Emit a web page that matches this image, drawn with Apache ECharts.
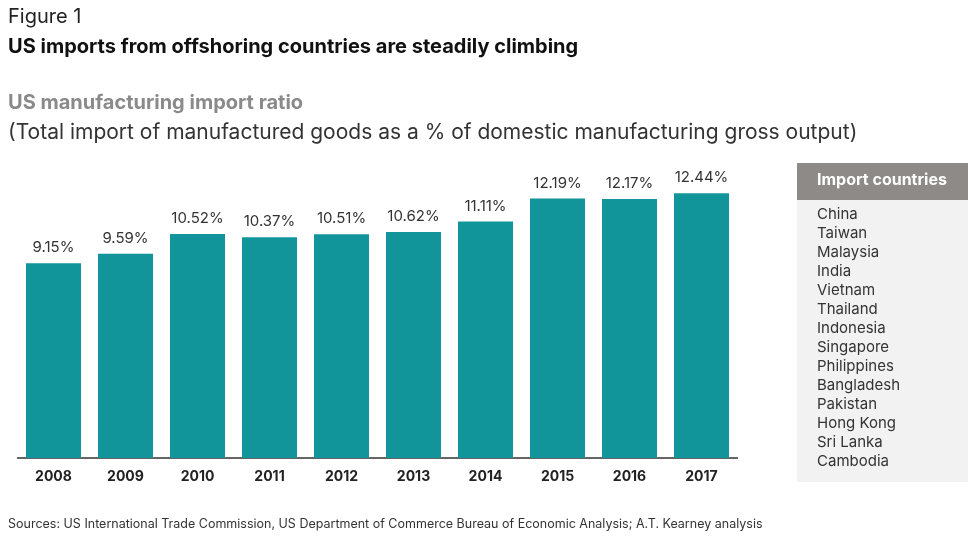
<!DOCTYPE html>
<html>
<head>
<meta charset="utf-8">
<script src="https://cdn.jsdelivr.net/npm/echarts@6/dist/echarts.min.js"></script>
<style>html,body{margin:0;padding:0;background:#fff}#chart{width:968px;height:549px}</style>
</head>
<body>
<div id="chart"></div>
<script>
var years = ['2008', '2009', '2010', '2011', '2012', '2013', '2014', '2015', '2016', '2017'];
var ratios = [9.15, 9.59, 10.52, 10.37, 10.51, 10.62, 11.11, 12.19, 12.17, 12.44];
var countries = ['China', 'Taiwan', 'Malaysia', 'India', 'Vietnam', 'Thailand', 'Indonesia', 'Singapore',
    'Philippines', 'Bangladesh', 'Pakistan', 'Hong Kong', 'Sri Lanka', 'Cambodia'];

var font = 'Inter, Roboto, sans-serif';
var myChart = echarts.init(document.getElementById('chart'));

var countryText = countries.map(function (c, i) {
    return {
        type: 'text', left: 817, top: 207 + i * 19,
        style: { text: c, font: '15px ' + font, fill: '#333' }
    };
});

var option = {
    backgroundColor: '#fff',
    animation: false,
    grid: { left: 17.5, right: 230.5, top: 160, bottom: 91 },
    xAxis: {
        type: 'category',
        data: years,
        axisTick: { show: false },
        axisLine: { lineStyle: { color: '#333', width: 1.5 } },
        axisLabel: { margin: 12, fontFamily: font, fontWeight: 'bold', fontSize: 14, color: '#222' }
    },
    yAxis: { type: 'value', min: 0, max: 14, show: false },
    series: [{
        type: 'bar',
        data: ratios,
        barWidth: 55,
        itemStyle: { color: '#12959a' },
        label: {
            show: true, position: 'top', distance: 8,
            formatter: function (p) { return p.value.toFixed(2) + '%'; },
            fontFamily: font, fontSize: 15, color: '#333'
        }
    }],
    graphic: [
        { type: 'text', left: 8, top: 7, style: { text: 'Figure 1', font: '20px ' + font, fill: '#222' } },
        { type: 'text', left: 8, top: 37, style: { text: 'US imports from offshoring countries are steadily climbing', font: 'bold 20px ' + font, fill: '#111' } },
        { type: 'text', left: 8, top: 93, style: { text: 'US manufacturing import ratio', font: 'bold 20px ' + font, fill: '#8a8a8a' } },
        { type: 'text', left: 8, top: 122, style: { text: '(Total import of manufactured goods as a % of domestic manufacturing gross output)', font: '21px ' + font, fill: '#333' } },
        { type: 'rect', shape: { x: 797, y: 200, width: 171, height: 282 }, style: { fill: '#f2f2f2' } },
        { type: 'rect', shape: { x: 797, y: 163, width: 171, height: 37 }, style: { fill: '#8e8a88' } },
        { type: 'text', left: 817, top: 172, style: { text: 'Import countries', font: 'bold 16px ' + font, fill: '#fff' } },
        { type: 'text', left: 8, top: 518, style: { text: 'Sources: US International Trade Commission, US Department of Commerce Bureau of Economic Analysis; A.T. Kearney analysis', font: '12.5px ' + font, fill: '#333' } }
    ].concat(countryText)
};
myChart.setOption(option);
</script>
</body>
</html>
